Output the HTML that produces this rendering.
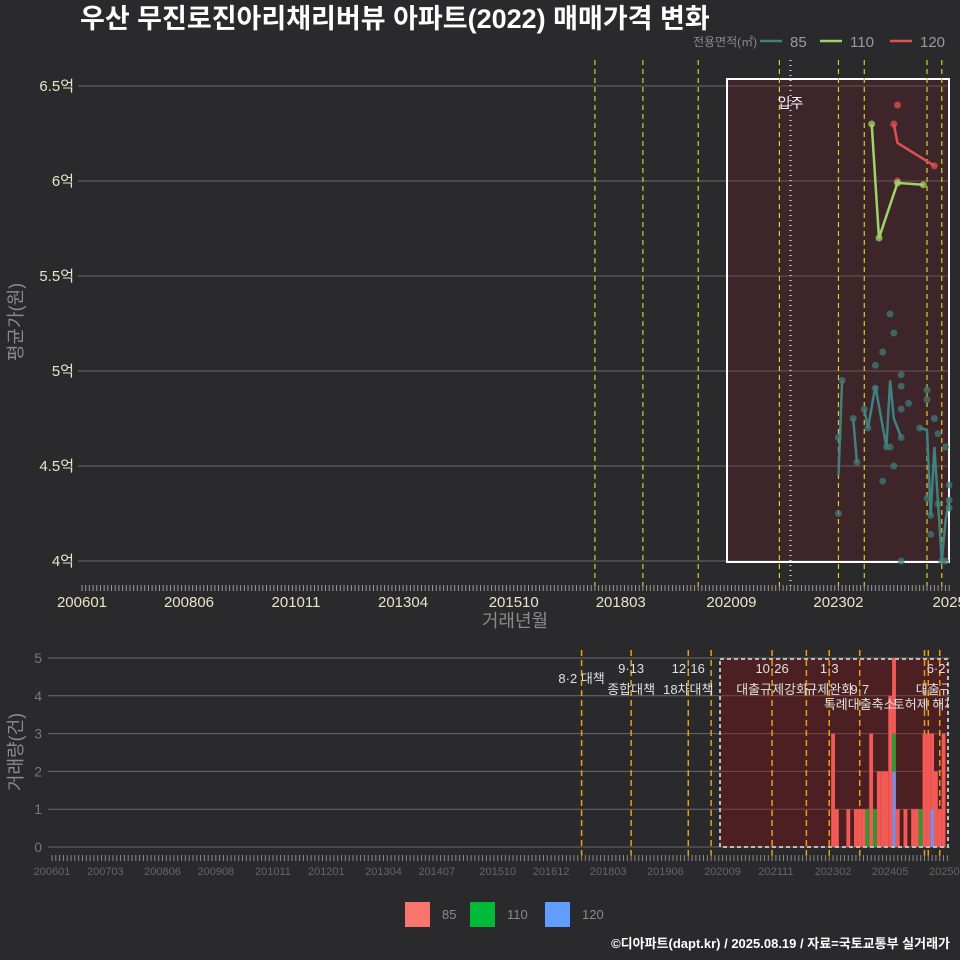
<!DOCTYPE html>
<html><head><meta charset="utf-8">
<style>
body{margin:0;background:#2a2a2c;}
svg{display:block;font-family:"Liberation Sans","Noto Sans CJK KR",sans-serif;}
</style></head>
<body>
<svg id="c" width="960" height="960" viewBox="0 0 960 960">
<rect width="960" height="960" fill="#2a2a2c"/>
<text x="80" y="28" font-size="27" font-weight="bold" fill="#ffffff">우산 무진로진아리채리버뷰 아파트(2022) 매매가격 변화</text>
<g id="topPanel"></g>
<g id="botPanel"></g>
<text x="950" y="948" font-size="13" font-weight="bold" fill="#ffffff" text-anchor="end">©디아파트(dapt.kr) / 2025.08.19 / 자료=국토교통부 실거래가</text>
</svg>
<script>
// ---- data ----
const topTickMonths=[0,29,58,87,117,146,176,205,235];
const topTickLabels=["200601","200806","201011","201304","201510","201803","202009","202302","2025"];
const yTicks=[4,4.5,5,5.5,6,6.5];
const yTickLabels=["4억","4.5억","5억","5.5억","6억","6.5억"];
const line85M=[205,206,null,209,210,null,212,213,215,218,219,220,222,null,227,229,230,231,232,233,234,235];
const line85V=[4.45,4.95,null,4.75,4.52,null,4.80,4.70,4.92,4.60,4.95,4.75,4.65,null,4.70,4.69,4.24,4.60,4.30,4.00,4.21,4.33];
const pts85M=[205,205,206,209,210,212,213,215,215,217,217,219,220,218,219,220,222,222,222,222,222,224,227,229,229,229,230,230,231,232,232,233,234,235,235,235,234];
const pts85V=[4.25,4.65,4.95,4.75,4.52,4.80,4.70,5.03,4.91,5.10,4.42,5.30,5.20,4.60,4.60,4.50,4.98,4.92,4.80,4.65,4.00,4.83,4.70,4.90,4.85,4.33,4.24,4.14,4.75,4.67,4.30,4.00,4.60,4.40,4.32,4.28,4.00];
const line110M=[214,216,221,228];
const line110V=[6.30,5.70,5.99,5.98];
const line120M=[220,221,231];
const line120V=[6.30,6.20,6.08];
const pts120M=[220,221,221,231];
const pts120V=[6.30,6.40,6.00,6.08];
const topVLines=[139,152,167,189,205,212,229,233];
const moveInMonth=192;
const botTickMonths=[0,14,29,43,58,72,87,101,117,131,146,161,176,190,205,220,235];
const botTickLabels=["200601","200703","200806","200908","201011","201201","201304","201407","201510","201612","201803","201906","202009","202111","202302","202405","202508"];
const botVLines=[139,152,167,173,189,198,204,212,229,230,233];
const barMonths=[205,206,209,211,212,213,214,215,216,217,218,219,220,221,222,224,226,227,228,229,230,231,232,233,234];
const bar85=[3,1,1,1,1,1,0,3,0,2,2,2,4,2,1,1,1,1,0,3,3,2,2,1,3];
const bar110=[0,0,0,0,0,0,1,0,1,0,0,0,0,1,0,0,0,0,1,0,0,0,0,0,0];
const bar120=[0,0,0,0,0,0,0,0,0,0,0,0,0,2,0,0,0,0,0,0,0,1,0,0,0];
const policyLabels=[[139,"8·2 대책",0,678],[152,"9·13",0,668],[152,"종합대책",0,689],[167,"12·16",0,668],[167,"18차대책",0,689],[189,"10·26",0,668],[189,"대출규제강화",0,689],[204,"1·3",0,668],[204,"규제완화",0,689],[212,"9·7",0,689],[212,"특례대출축소",0,704],[229,"토허제 해제",0,704],[233,"6·27",0,668],[233,"대출규제",0,689]];

const NS="http://www.w3.org/2000/svg";
function mk(parent,tag,attrs){const e=document.createElementNS(NS,tag);for(const k in attrs)e.setAttribute(k,attrs[k]);parent.appendChild(e);return e;}
// ---- top scales ----
const tx=m=>82+m*3.69;
const ty=v=>561-(v-4)*190;
const topG=document.getElementById('topPanel');
let e;
yTicks.forEach((v,i)=>{
 e=mk(topG,'line',{x1:78,x2:950,y1:ty(v),y2:ty(v),stroke:'#6a6a6a','stroke-width':1});
 
 
 e=mk(topG,'text',{x:74,y:ty(v)+5,'font-size':15,fill:'#e6e6c8','text-anchor':'end'});e.textContent=yTickLabels[i];
 
 
});
e=mk(topG,'rect',{x:727,y:79,width:222,height:483,fill:'#6a1c24','fill-opacity':0.3,stroke:'#ffffff','stroke-width':2});


topVLines.forEach(m=>{e=mk(topG,'line',{x1:tx(m),x2:tx(m),y1:60,y2:588,stroke:'#d8d020','stroke-width':1.2,'stroke-dasharray':'5,4'});
 
 });
e=mk(topG,'line',{x1:tx(moveInMonth),x2:tx(moveInMonth),y1:60,y2:588,stroke:'#dddddd','stroke-width':2,'stroke-dasharray':'1,4'});


e=mk(topG,'text',{x:tx(moveInMonth),y:108,'font-size':14,fill:'#ffffff','text-anchor':'middle'});e.textContent='입주';


for(let m=0;m<=235;m++){e=mk(topG,'line',{x1:tx(m),x2:tx(m),y1:585,y2:591,stroke:'#9a9a9a','stroke-width':1});
 
 }
topTickMonths.forEach((m,i)=>{e=mk(topG,'text',{x:tx(m),y:607,'font-size':15,fill:'#e6e6c8','text-anchor':'middle'});e.textContent=topTickLabels[i];
 
 });
e=mk(topG,'text',{x:515,y:627,'font-size':18,fill:'#8a8a8a','text-anchor':'middle'});e.textContent='거래년월';


e=mk(topG,'text',{x:0,y:0,'font-size':18,fill:'#8a8a8a','text-anchor':'middle',transform:'translate(22,322) rotate(-90)'});e.textContent='평균가(원)';


function path(M,V){let d='',pen=false;M.forEach((m,i)=>{if(m===null||V[i]===null){pen=false;return;}d+=(pen?'L':'M')+tx(m).toFixed(1)+','+ty(V[i]).toFixed(1);pen=true;});return d;}
function pts(M,V,col,name){M.forEach((m,i)=>{e=mk(topG,'circle',{cx:tx(m),cy:ty(V[i]),r:3.5,fill:col,opacity:0.75});
 
 });}
pts(pts85M,pts85V,'#3f7a78','point-85');
e=mk(topG,'path',{d:path(line85M,line85V),fill:'none',stroke:'#3f8080','stroke-width':2.5});


pts(pts120M,pts120V,'#e05050','point-120');
e=mk(topG,'path',{d:path(line120M,line120V),fill:'none',stroke:'#e05050','stroke-width':2.5});


pts(line110M,line110V,'#a0d46a','point-110');
e=mk(topG,'path',{d:path(line110M,line110V),fill:'none',stroke:'#a0d46a','stroke-width':2.5});


// legend
e=mk(topG,'text',{x:693,y:46,'font-size':12,fill:'#8a8a8a'});e.textContent='전용면적(㎡)';


[[760,'#3f8080','85'],[820,'#a0d46a','110'],[890,'#e05050','120']].forEach(l=>{
 e=mk(topG,'line',{x1:l[0],x2:l[0]+22,y1:41,y2:41,stroke:l[1],'stroke-width':2.5});
 
 
 e=mk(topG,'text',{x:l[0]+30,y:47,'font-size':15,fill:'#9a9a9a'});e.textContent=l[2];
 
 });
// ---- bottom ----
const bx=m=>52+m*3.81;
const by=c=>847-c*37.8;
const botG=document.getElementById('botPanel');
[0,1,2,3,4,5].forEach(c=>{
 e=mk(botG,'line',{x1:48,x2:950,y1:by(c),y2:by(c),stroke:'#6a6a6a','stroke-width':1});
 
 
 e=mk(botG,'text',{x:42,y:by(c)+5,'font-size':14,fill:'#777','text-anchor':'end'});e.textContent=c;
 
 });
e=mk(botG,'rect',{x:720,y:659,width:228,height:188,fill:'#8b0f10','fill-opacity':0.35});


botVLines.forEach(m=>{e=mk(botG,'line',{x1:bx(m),x2:bx(m),y1:650,y2:858,stroke:'#e8a010','stroke-width':1.5,'stroke-dasharray':'6,4'});
 
 });
const bw=3.81;
barMonths.forEach((m,i)=>{let base=0;
 [[bar120[i],'#8a8ad8','bar-120'],[bar110[i],'#2e9a30','bar-110'],[bar85[i],'#f25a55','bar-85']].forEach(s=>{
  if(s[0]>0){e=mk(botG,'rect',{x:bx(m)-bw/2,y:by(base+s[0]),width:bw,height:by(base)-by(base+s[0]),fill:s[1]});
   
   
   base+=s[0];}});});
e=mk(botG,'rect',{x:720,y:659,width:228,height:188,fill:'none',stroke:'#bbbbbb','stroke-width':2,'stroke-dasharray':'4,3'});


const cl=mk(botG,'clipPath',{id:'bc'});mk(cl,'rect',{x:0,y:640,width:948,height:80});
const lg=mk(botG,'g',{'clip-path':'url(#bc)'});
policyLabels.forEach(p=>{e=mk(lg,'text',{x:bx(p[0]),y:p[3]+5,'font-size':13,fill:'#e0e0e0','text-anchor':'middle'});e.textContent=p[1];
 
 });
for(let m=0;m<=235;m++){e=mk(botG,'line',{x1:bx(m),x2:bx(m),y1:855,y2:861,stroke:'#8a8a8a','stroke-width':1});
 
 }
botTickMonths.forEach((m,i)=>{e=mk(botG,'text',{x:bx(m),y:875,'font-size':11,fill:'#666','text-anchor':'middle'});e.textContent=botTickLabels[i];
 
 });
e=mk(botG,'text',{x:0,y:0,'font-size':18,fill:'#8a8a8a','text-anchor':'middle',transform:'translate(22,752) rotate(-90)'});e.textContent='거래량(건)';


[[405,'#f8766d','85'],[470,'#00ba38','110'],[545,'#619cff','120']].forEach(l=>{
 e=mk(botG,'rect',{x:l[0],y:902,width:25,height:25,fill:l[1]});
 
 
 e=mk(botG,'text',{x:l[0]+37,y:919,'font-size':13,fill:'#8a8a8a'});e.textContent=l[2];
 
 });
</script>
</body></html>
